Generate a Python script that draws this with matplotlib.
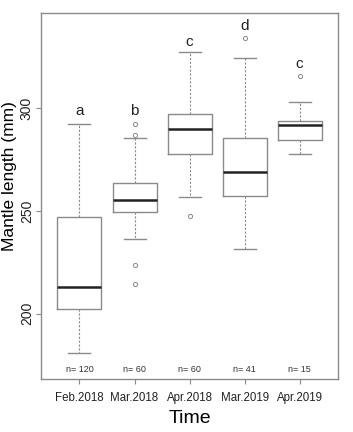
import matplotlib
matplotlib.use("Agg")
import matplotlib.pyplot as plt

plt.rcParams['font.family'] = ['Liberation Sans', 'DejaVu Sans']

labels = ["Feb.2018", "Mar.2018", "Apr.2018", "Mar.2019", "Apr.2019"]
whislo = [181.2, 236.1, 256.5, 231.4, 277.5]
q1 = [202.3, 249.2, 277.5, 257.4, 284.3]
med = [212.8, 255.3, 289.8, 268.8, 291.7]
q3 = [247.0, 263.6, 297.1, 285.3, 293.8]
whishi = [292.2, 285.3, 327.0, 324.1, 303.1]
fliers = [[], [292.2, 286.6, 223.8, 214.6], [247.6], [333.8], [315.7]]
letters = ["a", "b", "c", "d", "c"]
letter_y = [298.5, 298.5, 332.2, 340.0, 321.2]
counts = [120, 60, 60, 41, 15]

stats = []
for i in range(len(labels)):
    stats.append(dict(label=labels[i], whislo=whislo[i], q1=q1[i], med=med[i],
                      q3=q3[i], whishi=whishi[i], fliers=fliers[i]))

fig = plt.figure(figsize=(3.53, 4.32), dpi=100)
ax = fig.add_axes([0.116, 0.123, 0.842, 0.847])

grey = "#8a8a8a"
ax.bxp(stats, positions=range(1, 6), widths=0.8, patch_artist=False,
       boxprops=dict(color=grey, linewidth=1.0),
       medianprops=dict(color="#222222", linewidth=1.8),
       whiskerprops=dict(color=grey, linewidth=0.8, linestyle=(0, (2, 1.5))),
       capprops=dict(color=grey, linewidth=1.0),
       flierprops=dict(marker="o", markersize=3, markerfacecolor="none",
                       markeredgecolor=grey, markeredgewidth=0.7))

for i in range(5):
    ax.text(i + 1, letter_y[i], letters[i], ha="center", va="center", fontsize=11, color="#222222")
    ax.text(i + 1, 172.8, "n= %d" % counts[i], ha="center", va="center", fontsize=6.5, color="#333333")

ax.set_xlim(0.3, 5.7)
ax.set_ylim(168.4, 346.1)
ax.set_yticks([200, 250, 300])
ax.set_yticklabels(["200", "250", "300"], rotation=90, va="center", fontsize=10, color="#222222")
ax.set_xticks(range(1, 6))
ax.set_xticklabels(labels, fontsize=8.3, color="#222222")
ax.tick_params(axis="both", length=3.6, width=0.8, color=grey)
ax.tick_params(axis="y", pad=1.5)
ax.tick_params(axis="x", pad=6)

for s in ax.spines.values():
    s.set_color(grey)
    s.set_linewidth(1.0)

ax.set_xlabel("Time", fontsize=14)
ax.xaxis.set_label_coords(0.5, -0.086)
ax.set_ylabel("Mantle length (mm)", fontsize=12.5)
ax.yaxis.set_label_coords(-0.08, 0.555)

fig.savefig("out.png", dpi=100)
